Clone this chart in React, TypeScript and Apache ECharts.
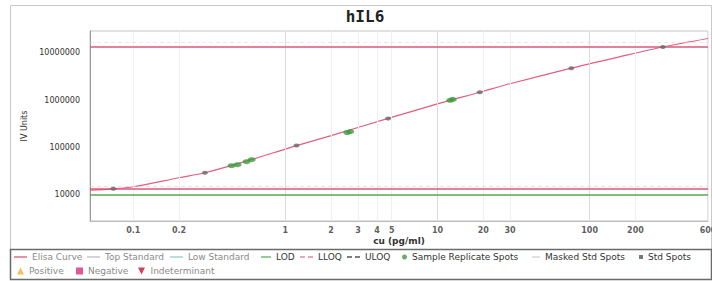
import React, { useEffect, useRef } from 'react';
import * as echarts from 'echarts';

// X axis tick labels (log scale)
const xTickValues = [0.1, 0.2, 1, 2, 3, 4, 5, 10, 20, 30, 100, 200, 600];
const xTickLabels = ['0.1', '0.2', '1', '2', '3', '4', '5', '10', '20', '30', '100', '200', '600'];

// Elisa curve
const curveX = [0.052, 0.074, 0.1, 0.2, 0.296, 0.5, 1, 1.185, 2, 4.74, 10, 18.96, 30, 75.8, 150, 303, 600];
const curveY = [12500, 13400, 14800, 23000, 29300, 46700, 92600, 110000, 179000, 412000, 837000, 1470000, 2230000, 4750000, 7940000, 13300000, 20100000];

// Std spots
const stdX = [0.074, 0.296, 1.185, 4.74, 18.96, 75.8, 303];
const stdY = [13400, 29300, 110000, 412000, 1470000, 4750000, 13300000];

// Sample replicate spots
const sampleX = [0.443, 0.485, 0.556, 0.6, 2.55, 2.67, 12.1, 12.6];
const sampleY = [41300, 43400, 50200, 55400, 207600, 217600, 993000, 1040000];

// Reference levels
const topStandard = 13300000;
const lowStandard = 13400;
const lodLevel = 10000;
const lloqLevel = 15000;
const uloqLevel = 17000000;

const xMin = 0.052;
const xMax = 600;
const yMin = 2800;
const yMax = 29000000;

const FONT = 'DejaVu Sans';

const SOLID_ICON = 'path://M0,0H13V1.6H0Z';
const DASH_ICON = 'path://M0,0H5V1.6H0Z M8,0H13V1.6H8Z';

export default function App() {
  const ref = useRef<HTMLDivElement>(null);
  useEffect(() => {
    document.body.style.margin = '0';
    const chart = echarts.init(ref.current!, null, { renderer: 'svg' });

    const legendItems: any[] = [
      { name: 'Elisa Curve', left: 14, top: 252.5, w: 13, h: 1.6, color: '#8a8a8a', icon: SOLID_ICON, iconColor: '#e07890' },
      { name: 'Top Standard', left: 87, top: 252.5, w: 13, h: 1.6, color: '#8a8a8a', icon: SOLID_ICON, iconColor: '#c8c8d4' },
      { name: 'Low Standard', left: 170, top: 252.5, w: 13, h: 1.6, color: '#8a8a8a', icon: SOLID_ICON, iconColor: '#a8d8d0' },
      { name: 'LOD', left: 261, top: 252.5, w: 10, h: 1.6, color: '#333', icon: SOLID_ICON, iconColor: '#55a855' },
      { name: 'LLOQ', left: 300, top: 252.5, w: 13, h: 1.6, color: '#333', icon: DASH_ICON, iconColor: '#e08aa0' },
      { name: 'ULOQ', left: 347, top: 252.5, w: 13, h: 1.6, color: '#333', icon: DASH_ICON, iconColor: '#555' },
      { name: 'Sample Replicate Spots', left: 402, top: 252.5, w: 5, h: 5, color: '#333', icon: 'circle', iconColor: '#3f9a3c' },
      { name: 'Masked Std Spots', left: 532, top: 252.5, w: 8, h: 2, color: '#333', icon: 'rect', iconColor: '#d8d8d8' },
      { name: 'Std Spots', left: 639, top: 252.5, w: 4, h: 4, color: '#333', icon: 'rect', iconColor: '#555' },
      { name: 'Positive', left: 17, top: 266.5, w: 7, h: 7, color: '#8a8a8a', icon: 'triangle', iconColor: '#f0b030' },
      { name: 'Negative', left: 76, top: 266.5, w: 7, h: 7, color: '#8a8a8a', icon: 'rect', iconColor: '#d8307a' },
      { name: 'Indeterminant', left: 138, top: 266.5, w: 8, h: 7, color: '#8a8a8a', icon: 'path://M0,0L10,0L5,10Z', iconColor: '#c8102e' },
    ];

    const legends = legendItems.map((it) => ({
      data: [{ name: it.name, icon: it.icon, itemStyle: { color: it.iconColor, borderWidth: 0 } }],
      left: it.left,
      top: it.top,
      itemWidth: it.w,
      itemHeight: it.h,
      padding: 0,
      itemGap: 0,
      selectedMode: false,
      textStyle: { fontSize: 9, color: it.color, fontFamily: FONT, padding: [0, 0, 0, 0] },
    }));

    const hLine = (name: string, value: number, color: string, width: number, type: any, opacity = 1) => ({
      name,
      type: 'line',
      data: [],
      symbol: 'none',
      color,
      lineStyle: { color, width, type },
      markLine: {
        silent: true,
        symbol: 'none',
        label: { show: false },
        lineStyle: { color, width, type, opacity },
        data: [{ yAxis: value }],
      },
      z: 2,
    });

    const option: any = {
      animation: false,
      textStyle: { fontFamily: FONT },
      graphic: [
        {
          type: 'rect',
          z: -10,
          shape: { x: 10.5, y: 5.5, width: 701, height: 244 },
          style: { fill: 'none', stroke: '#c8c8c8', lineWidth: 1 },
        },
        {
          type: 'rect',
          z: -10,
          shape: { x: 10.5, y: 249.5, width: 701, height: 30 },
          style: { fill: 'none', stroke: '#6a6a6a', lineWidth: 1.5 },
        },
        {
          type: 'text',
          x: 365,
          y: 16,
          style: {
            text: 'hIL6',
            font: 'bold 16px "DejaVu Sans Mono"',
            fill: '#222',
            textAlign: 'center',
            textVerticalAlign: 'middle',
          },
        },
      ],
      legend: legends,
      grid: {
        left: 90,
        right: 4,
        top: 31,
        bottom: 60,
        show: true,
        borderColor: '#c4c4c4',
        borderWidth: 1,
      },
      xAxis: {
        type: 'log',
        logBase: 10,
        min: xMin,
        max: xMax,
        axisLine: { show: true, lineStyle: { color: '#bbb' } },
        axisTick: { show: false },
        axisLabel: { show: false },
        splitLine: { show: false },
        name: 'cu (pg/ml)',
        nameLocation: 'middle',
        nameGap: 15,
        nameTextStyle: { fontSize: 9, fontWeight: 'bold', color: '#333', fontFamily: FONT },
      },
      yAxis: {
        type: 'log',
        logBase: 10,
        min: yMin,
        max: yMax,
        axisLine: { show: true, lineStyle: { color: '#999' } },
        axisTick: { show: false },
        splitLine: { show: false },
        axisLabel: {
          fontSize: 8,
          color: '#333',
          margin: 10,
          fontFamily: FONT,
          formatter: (v: number) => {
            const l = Math.log10(v);
            return Math.abs(l - Math.round(l)) < 1e-6 ? String(Math.round(v)) : '';
          },
        },
        name: 'IV Units',
        nameLocation: 'middle',
        nameGap: 56,
        nameRotate: 90,
        nameTextStyle: { fontSize: 8, color: '#333', fontFamily: FONT },
      },
      series: [
        {
          name: '__xticks',
          type: 'scatter',
          silent: true,
          clip: false,
          symbolSize: 1,
          itemStyle: { color: 'rgba(0,0,0,0)' },
          data: xTickValues.map((v) => [v, yMin]),
          label: {
            show: true,
            position: 'bottom',
            distance: 5,
            fontSize: 8,
            fontWeight: 'bold',
            fontFamily: FONT,
            color: '#333',
            formatter: (p: any) => xTickLabels[p.dataIndex],
          },
          markLine: {
            silent: true,
            symbol: 'none',
            label: { show: false },
            data: xTickValues.map((v) => ({
              xAxis: v,
              lineStyle: { color: [1, 10, 100].includes(v) ? '#dcdcdc' : '#efefef', width: 1, type: 'solid' },
            })),
          },
          z: 0,
        },
        {
          name: 'Elisa Curve',
          type: 'line',
          data: curveX.map((x, i) => [x, curveY[i]]),
          symbol: 'none',
          smooth: 0.3,
          color: '#e0607c',
          lineStyle: { color: '#e0607c', width: 1.2 },
          z: 4,
        },
        hLine('Top Standard', topStandard, '#d8587a', 1.5, 'solid'),
        hLine('Low Standard', lowStandard, '#d8587a', 1.5, 'solid'),
        hLine('LOD', lodLevel, '#55a855', 1.5, 'solid'),
        hLine('LLOQ', lloqLevel, '#f0c4d0', 1, [4, 3], 0.6),
        hLine('ULOQ', uloqLevel, '#f0c8d2', 1, [4, 3], 0.5),
        {
          name: 'Sample Replicate Spots',
          type: 'scatter',
          data: sampleX.map((x, i) => [x, sampleY[i]]),
          symbol: 'circle',
          symbolSize: [8, 5],
          color: '#3f9a3c',
          itemStyle: { color: '#3f9a3c' },
          z: 5,
        },
        {
          name: 'Masked Std Spots',
          type: 'scatter',
          data: [],
          color: '#d8d8d8',
          itemStyle: { color: '#d8d8d8' },
        },
        {
          name: 'Std Spots',
          type: 'scatter',
          data: stdX.map((x, i) => [x, stdY[i]]),
          symbol: 'circle',
          symbolSize: [6, 4],
          color: '#666',
          itemStyle: { color: '#6a6a6a' },
          z: 6,
        },
        { name: 'Positive', type: 'scatter', data: [], color: '#f0b030', itemStyle: { color: '#f0b030' } },
        { name: 'Negative', type: 'scatter', data: [], color: '#d8307a', itemStyle: { color: '#d8307a' } },
        { name: 'Indeterminant', type: 'scatter', data: [], color: '#c8102e', itemStyle: { color: '#c8102e' } },
      ],
    };

    chart.setOption(option);
    return () => chart.dispose();
  }, []);
  return <div ref={ref} style={{ width: 712, height: 281 }} />;
}
